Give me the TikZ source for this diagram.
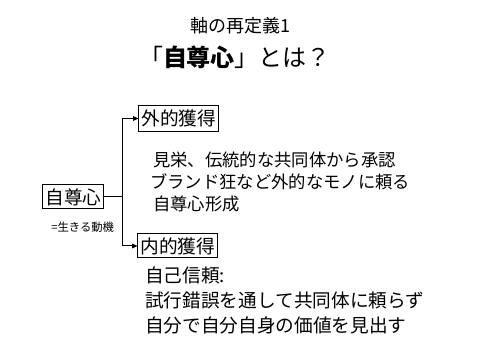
\documentclass[tikz,border=0pt]{standalone}
\usepackage{fontspec}
\setmainfont{Noto Sans CJK JP}
\usetikzlibrary{arrows.meta}

\begin{document}
\begin{tikzpicture}[x=0.75pt, y=-0.75pt,
  every node/.style={inner sep=0pt},
  box/.style={draw, line width=0.75pt, minimum width=60pt, minimum height=19.5pt, font=\fontsize{14pt}{16pt}\selectfont},
  body/.style={anchor=west, align=left},
  link/.style={line width=0.75pt, -{Triangle[length=4pt, width=3.5pt]}}]
  % fix the page to the 480x360 frame
  \useasboundingbox (0,0) rectangle (480,360);

  % title
  \node (subtitle) at (240,26) {\fontsize{13.5pt}{15pt}\selectfont 軸の再定義1};
  \node (title) at (235,57) {\fontsize{18pt}{21pt}\selectfont 「\textbf{自尊心}」とは？};

  % root and the two branches
  \node[box, minimum width=45.75pt, minimum height=18pt] (jison) at (73.5,197) {自尊心};
  \node[anchor=west] (motive) at (51,227) {\fontsize{8.5pt}{10pt}\selectfont =生きる動機};
  \node[box] (gaiteki) at (179,118.5) {外的獲得};
  \node[box, minimum height=18pt] (naiteki) at (178,246) {内的獲得};

  \draw[line width=0.75pt] (jison.east) -- (123,197) coordinate (fork);
  \draw[link] (fork) |- (gaiteki.west);
  \draw[link] (fork) |- (naiteki.west);

  % explanations
  \node[body, font=\fontsize{13pt}{16.5pt}\selectfont] (outer) at (150,181.5)
    {\,見栄、伝統的な共同体から承認\\ブランド狂など外的なモノに頼る\\\,自尊心形成};
  \node[body, font=\fontsize{14pt}{18.75pt}\selectfont] (inner) at (145,300)
    {自己信頼:\\試行錯誤を通して共同体に頼らず\\自分で自分自身の価値を見出す};
\end{tikzpicture}
\end{document}
